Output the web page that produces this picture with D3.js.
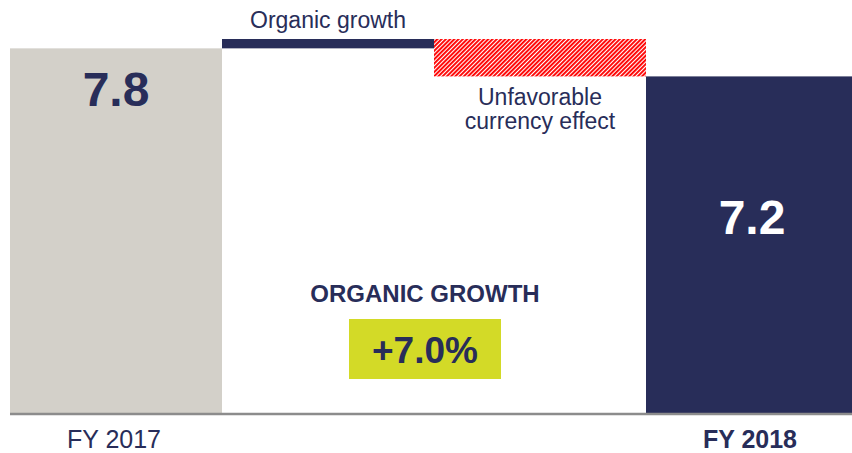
<!DOCTYPE html>
<html>
<head>
<meta charset="utf-8">
<script src="https://cdn.jsdelivr.net/npm/d3@7"></script>
<style>
  body { margin: 0; background: #fff; }
  text { font-family: "Liberation Sans", Arial, sans-serif; }
</style>
</head>
<body>
<div id="chart"></div>
<script>
// Chart data
var categories = ["FY 2017", "Organic growth", "Unfavorable currency effect", "FY 2018"];
var kinds = ["total", "delta", "delta", "total"];
var values = [7.8, 0.2, -0.8, 7.2];
var valueLabels = ["7.8", "", "", "7.2"];
var organicLabel = "ORGANIC GROWTH";
var organicValue = "+7.0%";

var svgWidth = 852;
var svgHeight = 453;

var navy = "#282d59";
var beige = "#d3d0c9";

var svg = d3.select("#chart")
  .append("svg")
  .attr("width", svgWidth)
  .attr("height", svgHeight);

// hatch pattern for the currency bar
var defs = svg.append("defs");
var pattern = defs.append("pattern")
  .attr("id", "hatch")
  .attr("patternUnits", "userSpaceOnUse")
  .attr("width", 3)
  .attr("height", 3)
  .attr("patternTransform", "rotate(45)");
pattern.append("rect")
  .attr("width", 3).attr("height", 3).attr("fill", "#fff");
pattern.append("rect")
  .attr("width", 1.9).attr("height", 3).attr("fill", "#ff0000");

// build waterfall steps
var running = 0;
var steps = categories.map(function(c, i) {
  var start, end;
  if (kinds[i] === "total") {
    start = 0;
    end = values[i];
    running = values[i];
  } else {
    start = running;
    end = running + values[i];
    running = end;
  }
  return { cat: c, kind: kinds[i], start: start, end: end, value: values[i], label: valueLabels[i] };
});

var x = d3.scaleBand()
  .domain(categories)
  .range([10, 858])
  .padding(0);

var y = d3.scaleLinear()
  .domain([0, 8])
  .range([413, 39]);

function barFill(d, i) {
  if (i === 0) return beige;
  if (d.kind === "delta" && d.value < 0) return "url(#hatch)";
  return navy;
}

svg.selectAll("rect.bar")
  .data(steps)
  .enter()
  .append("rect")
  .attr("class", "bar")
  .attr("x", d => x(d.cat))
  .attr("width", x.bandwidth())
  .attr("y", d => y(Math.max(d.start, d.end)))
  .attr("height", d => Math.abs(y(d.start) - y(d.end)))
  .attr("fill", (d, i) => barFill(d, i));

// baseline
svg.append("line")
  .attr("x1", 10)
  .attr("x2", svgWidth)
  .attr("y1", y(0) + 1)
  .attr("y2", y(0) + 1)
  .attr("stroke", "#8c8c8c")
  .attr("stroke-width", 2.5);

// value labels inside total bars
svg.selectAll("text.value")
  .data(steps.filter(d => d.kind === "total"))
  .enter()
  .append("text")
  .attr("class", "value")
  .attr("x", d => x(d.cat) + x.bandwidth() / 2)
  .attr("y", (d, i) => i === 0 ? 106 : 234)
  .attr("text-anchor", "middle")
  .attr("font-weight", "bold")
  .attr("font-size", 48)
  .attr("fill", (d, i) => i === 0 ? navy : "#fff")
  .text(d => d.label);

// category labels under total bars
svg.selectAll("text.cat")
  .data(steps.filter(d => d.kind === "total"))
  .enter()
  .append("text")
  .attr("class", "cat")
  .attr("x", d => x(d.cat) + x.bandwidth() / 2 - 2)
  .attr("y", 448)
  .attr("text-anchor", "middle")
  .attr("font-size", 25)
  .attr("font-weight", (d, i) => i === 1 ? "bold" : "normal")
  .attr("fill", navy)
  .text(d => d.cat);

// delta labels
svg.append("text")
  .attr("x", x(categories[1]) + x.bandwidth() / 2)
  .attr("y", 28)
  .attr("text-anchor", "middle")
  .attr("font-size", 23)
  .attr("fill", navy)
  .text(categories[1]);

var currencyText = svg.append("text")
  .attr("x", x(categories[2]) + x.bandwidth() / 2)
  .attr("y", 105)
  .attr("text-anchor", "middle")
  .attr("font-size", 23)
  .attr("fill", navy);
currencyText.append("tspan")
  .attr("x", x(categories[2]) + x.bandwidth() / 2)
  .text("Unfavorable");
currencyText.append("tspan")
  .attr("x", x(categories[2]) + x.bandwidth() / 2)
  .attr("dy", 24)
  .text("currency effect");

// organic growth callout
svg.append("text")
  .attr("x", 425)
  .attr("y", 302)
  .attr("text-anchor", "middle")
  .attr("font-size", 24)
  .attr("font-weight", "bold")
  .attr("fill", navy)
  .text(organicLabel);

svg.append("rect")
  .attr("x", 349)
  .attr("y", 319)
  .attr("width", 152)
  .attr("height", 60)
  .attr("fill", "#d3da27");

svg.append("text")
  .attr("x", 425)
  .attr("y", 363)
  .attr("text-anchor", "middle")
  .attr("font-size", 37)
  .attr("font-weight", "bold")
  .attr("fill", navy)
  .text(organicValue);
</script>
</body>
</html>
